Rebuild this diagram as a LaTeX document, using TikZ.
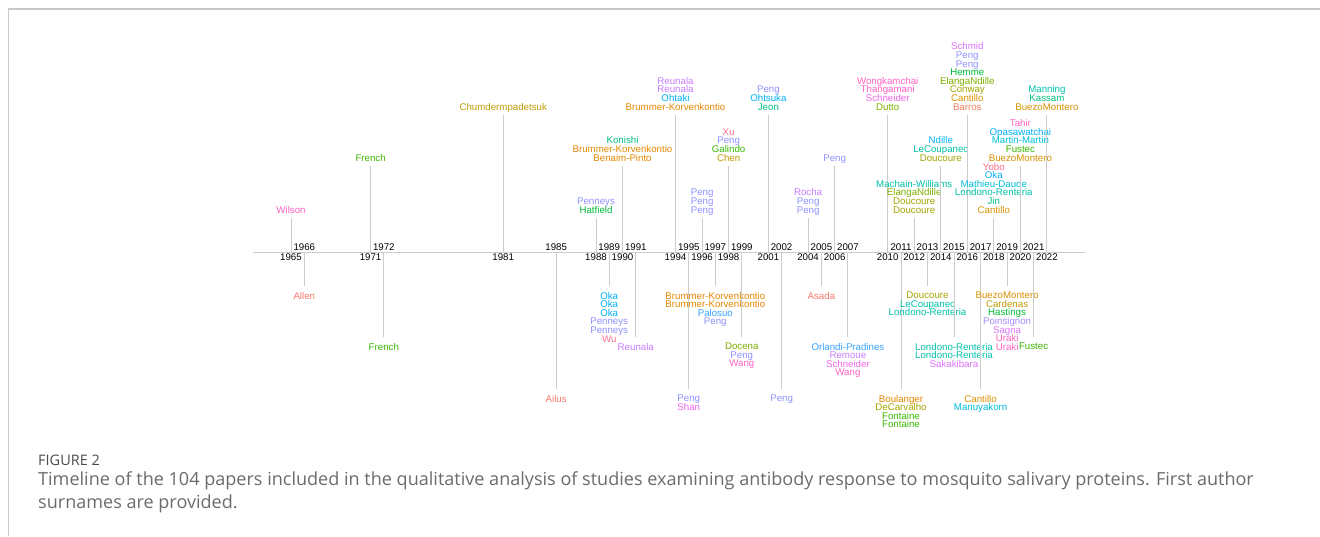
\documentclass[tikz,border=0pt]{standalone}
\usepackage{fontspec}
\setmainfont{Liberation Sans}
\newfontfamily\capfont{Open Sans}
\usetikzlibrary{positioning}

% hue colours, ordered by surname
\definecolor{hSalmon}{HTML}{F8766D}
\definecolor{hCoral}{HTML}{F37B59}
\definecolor{hOrange}{HTML}{E58700}
\definecolor{hAmber}{HTML}{D89000}
\definecolor{hGold}{HTML}{C09B00}
\definecolor{hOlive}{HTML}{A3A500}
\definecolor{hLime}{HTML}{7CAE00}
\definecolor{hGreen}{HTML}{39B600}
\definecolor{hEmerald}{HTML}{00BA38}
\definecolor{hJade}{HTML}{00BF7D}
\definecolor{hTeal}{HTML}{00C1A7}
\definecolor{hCyan}{HTML}{00BCD8}
\definecolor{hSky}{HTML}{00B0F6}
\definecolor{hAzure}{HTML}{35A2FF}
\definecolor{hPeri}{HTML}{8F91FF}
\definecolor{hLilac}{HTML}{A58AFF}
\definecolor{hPurple}{HTML}{C77CFF}
\definecolor{hViolet}{HTML}{DC71FA}
\definecolor{hMagenta}{HTML}{F166E8}
\definecolor{hPink}{HTML}{FF61C3}
\definecolor{hRose}{HTML}{FF6C91}
\definecolor{linegray}{HTML}{CCCCCC}
\definecolor{framegray}{HTML}{C8C8C8}
\definecolor{capgray}{HTML}{6B6B6B}
\definecolor{figgray}{HTML}{4A4A4A}

\newcommand\au[2]{\textcolor{#1}{#2}\strut}
\lineskiplimit=-100pt

\begin{document}
\begin{tikzpicture}[x=1pt, y=-1pt,
  tl/.style={font=\fontsize{9.7}{8.6}\selectfont},
  yrup/.style={tl, inner sep=0pt, outer sep=0pt, above=1.5pt of #1},
  yrdn/.style={tl, inner sep=0pt, outer sep=0pt, below=2pt of #1},
  namesup/.style={tl, align=center, anchor=south, inner sep=0pt, outer sep=2.4pt},
  namesdn/.style={tl, align=center, anchor=north, inner sep=0pt, outer sep=6pt},
  stem/.style={draw=linegray, line width=0.9pt}]

  \useasboundingbox (0,0) rectangle (1320,536);

  % frame
  \draw[framegray, line width=1.2pt] (1320,9) -- (8.5,9) -- (8.5,536);

  % axis
  \coordinate (axL) at (253,252);
  \coordinate (axR) at (1085,252);
  \draw[linegray, line width=1pt] (axL) -- (axR);

  % 1965
  \coordinate (a1965) at (291.0,252);
  \node[yrdn=a1965] (y1965) {1965};
  \node[namesup] (n1965) at (291.0,218) {\au{hPink}{Wilson}};
  \draw[stem] (a1965) -- (n1965);

  % 1966
  \coordinate (a1966) at (304.3,252);
  \node[yrup=a1966] (y1966) {1966};
  \node[namesdn] (n1966) at (304.3,286) {\au{hSalmon}{Allen}};
  \draw[stem] (a1966) -- (n1966);

  % 1971
  \coordinate (a1971) at (370.6,252);
  \node[yrdn=a1971] (y1971) {1971};
  \node[namesup] (n1971) at (370.6,166) {\au{hGreen}{French}};
  \draw[stem] (a1971) -- (n1971);

  % 1972
  \coordinate (a1972) at (383.8,252);
  \node[yrup=a1972] (y1972) {1972};
  \node[namesdn] (n1972) at (383.8,337) {\au{hGreen}{French}};
  \draw[stem] (a1972) -- (n1972);

  % 1981
  \coordinate (a1981) at (503.2,252);
  \node[yrdn=a1981] (y1981) {1981};
  \node[namesup] (n1981) at (503.2,115) {\au{hGold}{Chumdermpadetsuk}};
  \draw[stem] (a1981) -- (n1981);

  % 1985
  \coordinate (a1985) at (556.2,252);
  \node[yrup=a1985] (y1985) {1985};
  \node[namesdn] (n1985) at (556.2,389) {\au{hSalmon}{Ailus}};
  \draw[stem] (a1985) -- (n1985);

  % 1988
  \coordinate (a1988) at (596.0,252);
  \node[yrdn=a1988] (y1988) {1988};
  \node[namesup] (n1988) at (596.0,218) {\au{hPeri}{Penneys}\\\au{hEmerald}{Hatfield}};
  \draw[stem] (a1988) -- (n1988);

  % 1989
  \coordinate (a1989) at (609.2,252);
  \node[yrup=a1989] (y1989) {1989};
  \node[namesdn] (n1989) at (609.2,286) {\au{hSky}{Oka}\\\au{hSky}{Oka}\\\au{hSky}{Oka}\\
    \au{hPeri}{Penneys}\\\au{hPeri}{Penneys}\\\au{hRose}{Wu}};
  \draw[stem] (a1989) -- (n1989);

  % 1990
  \coordinate (a1990) at (622.5,252);
  \node[yrdn=a1990] (y1990) {1990};
  \node[namesup] (n1990) at (622.5,166) {\au{hJade}{Konishi}\\
    \au{hOrange}{Brummer-Korvenkontio}\\\au{hOrange}{Benaim-Pinto}};
  \draw[stem] (a1990) -- (n1990);

  % 1991
  \coordinate (a1991) at (635.8,252);
  \node[yrup=a1991] (y1991) {1991};
  \node[namesdn] (n1991) at (635.8,337) {\au{hPurple}{Reunala}};
  \draw[stem] (a1991) -- (n1991);

  % 1994
  \coordinate (a1994) at (675.5,252);
  \node[yrdn=a1994] (y1994) {1994};
  \node[namesup] (n1994) at (675.5,115) {\au{hPurple}{Reunala}\\\au{hPurple}{Reunala}\\
    \au{hSky}{Ohtaki}\\\au{hOrange}{Brummer-Korvenkontio}};
  \draw[stem] (a1994) -- (n1994);

  % 1995
  \coordinate (a1995) at (688.8,252);
  \node[yrup=a1995] (y1995) {1995};
  \node[namesdn] (n1995) at (688.8,389) {\au{hPeri}{Peng}\\\au{hMagenta}{Shan}};
  \draw[stem] (a1995) -- (n1995);

  % 1996
  \coordinate (a1996) at (702.1,252);
  \node[yrdn=a1996] (y1996) {1996};
  \node[namesup] (n1996) at (702.1,218) {\au{hPeri}{Peng}\\\au{hPeri}{Peng}\\\au{hPeri}{Peng}};
  \draw[stem] (a1996) -- (n1996);

  % 1997
  \coordinate (a1997) at (715.3,252);
  \node[yrup=a1997] (y1997) {1997};
  \node[namesdn] (n1997) at (715.3,286) {\au{hOrange}{Brummer-Korvenkontio}\\
    \au{hOrange}{Brummer-Korvenkontio}\\\au{hAzure}{Palosuo}\\\au{hPeri}{Peng}};
  \draw[stem] (a1997) -- (n1997);

  % 1998
  \coordinate (a1998) at (728.6,252);
  \node[yrdn=a1998] (y1998) {1998};
  \node[namesup] (n1998) at (728.6,166) {\au{hRose}{Xu}\\\au{hPeri}{Peng}\\
    \au{hGreen}{Galindo}\\\au{hGold}{Chen}};
  \draw[stem] (a1998) -- (n1998);

  % 1999
  \coordinate (a1999) at (741.8,252);
  \node[yrup=a1999] (y1999) {1999};
  \node[namesdn] (n1999) at (741.8,337) {\au{hLime}{Docena}\\\au{hPeri}{Peng}\\\au{hPink}{Wang}};
  \draw[stem] (a1999) -- (n1999);

  % 2001
  \coordinate (a2001) at (768.4,252);
  \node[yrdn=a2001] (y2001) {2001};
  \node[namesup] (n2001) at (768.4,115) {\au{hPeri}{Peng}\\\au{hSky}{Ohtsuka}\\\au{hJade}{Jeon}};
  \draw[stem] (a2001) -- (n2001);

  % 2002
  \coordinate (a2002) at (781.6,252);
  \node[yrup=a2002] (y2002) {2002};
  \node[namesdn] (n2002) at (781.6,389) {\au{hPeri}{Peng}};
  \draw[stem] (a2002) -- (n2002);

  % 2004
  \coordinate (a2004) at (808.1,252);
  \node[yrdn=a2004] (y2004) {2004};
  \node[namesup] (n2004) at (808.1,218) {\au{hPurple}{Rocha}\\\au{hPeri}{Peng}\\\au{hPeri}{Peng}};
  \draw[stem] (a2004) -- (n2004);

  % 2005
  \coordinate (a2005) at (821.4,252);
  \node[yrup=a2005] (y2005) {2005};
  \node[namesdn] (n2005) at (821.4,286) {\au{hSalmon}{Asada}};
  \draw[stem] (a2005) -- (n2005);

  % 2006
  \coordinate (a2006) at (834.7,252);
  \node[yrdn=a2006] (y2006) {2006};
  \node[namesup] (n2006) at (834.7,166) {\au{hPeri}{Peng}};
  \draw[stem] (a2006) -- (n2006);

  % 2007
  \coordinate (a2007) at (847.9,252);
  \node[yrup=a2007] (y2007) {2007};
  \node[namesdn] (n2007) at (847.9,337) {\au{hAzure}{Orlandi-Pradines}\\\au{hPurple}{Remoue}\\
    \au{hMagenta}{Schneider}\\\au{hPink}{Wang}};
  \draw[stem] (a2007) -- (n2007);

  % 2010
  \coordinate (a2010) at (887.7,252);
  \node[yrdn=a2010] (y2010) {2010};
  \node[namesup] (n2010) at (887.7,115) {\au{hPink}{Wongkamchai}\\\au{hPink}{Thangamani}\\
    \au{hMagenta}{Schneider}\\\au{hLime}{Dutto}};
  \draw[stem] (a2010) -- (n2010);

  % 2011
  \coordinate (a2011) at (901.0,252);
  \node[yrup=a2011] (y2011) {2011};
  \node[namesdn] (n2011) at (901.0,389) {\au{hOrange}{Boulanger}\\\au{hOlive}{DeCarvalho}\\
    \au{hGreen}{Fontaine}\\\au{hGreen}{Fontaine}};
  \draw[stem] (a2011) -- (n2011);

  % 2012
  \coordinate (a2012) at (914.2,252);
  \node[yrdn=a2012] (y2012) {2012};
  \node[namesup] (n2012) at (914.2,218) {\au{hTeal}{Machain-Williams}\\\au{hLime}{ElangaNdille}\\
    \au{hOlive}{Doucoure}\\\au{hOlive}{Doucoure}};
  \draw[stem] (a2012) -- (n2012);

  % 2013
  \coordinate (a2013) at (927.5,252);
  \node[yrup=a2013] (y2013) {2013};
  \node[namesdn] (n2013) at (927.5,286) {\au{hOlive}{Doucoure}\\\au{hTeal}{LeCoupanec}\\
    \au{hTeal}{Londono-Renteria}};
  \draw[stem] (a2013) -- (n2013);

  % 2014
  \coordinate (a2014) at (940.8,252);
  \node[yrdn=a2014] (y2014) {2014};
  \node[namesup] (n2014) at (940.8,166) {\au{hSky}{Ndille}\\\au{hTeal}{LeCoupanec}\\
    \au{hOlive}{Doucoure}};
  \draw[stem] (a2014) -- (n2014);

  % 2015
  \coordinate (a2015) at (954.0,252);
  \node[yrup=a2015] (y2015) {2015};
  \node[namesdn] (n2015) at (954.0,337) {\au{hTeal}{Londono-Renteria}\\
    \au{hTeal}{Londono-Renteria}\\\au{hViolet}{Sakakibara}};
  \draw[stem] (a2015) -- (n2015);

  % 2016
  \coordinate (a2016) at (967.3,252);
  \node[yrdn=a2016] (y2016) {2016};
  \node[namesup] (n2016) at (967.3,115) {\au{hViolet}{Schmid}\\\au{hPeri}{Peng}\\\au{hPeri}{Peng}\\
    \au{hEmerald}{Hemme}\\\au{hLime}{ElangaNdille}\\\au{hOlive}{Conway}\\
    \au{hAmber}{Cantillo}\\\au{hCoral}{Barros}};
  \draw[stem] (a2016) -- (n2016);

  % 2017
  \coordinate (a2017) at (980.6,252);
  \node[yrup=a2017] (y2017) {2017};
  \node[namesdn] (n2017) at (980.6,389) {\au{hAmber}{Cantillo}\\\au{hCyan}{Manuyakorn}};
  \draw[stem] (a2017) -- (n2017);

  % 2018
  \coordinate (a2018) at (993.8,252);
  \node[yrdn=a2018] (y2018) {2018};
  \node[namesup] (n2018) at (993.8,218) {\au{hRose}{Yobo}\\\au{hSky}{Oka}\\
    \au{hCyan}{Mathieu-Daude}\\\au{hTeal}{Londono-Renteria}\\\au{hJade}{Jin}\\
    \au{hAmber}{Cantillo}};
  \draw[stem] (a2018) -- (n2018);

  % 2019
  \coordinate (a2019) at (1007.1,252);
  \node[yrup=a2019] (y2019) {2019};
  \node[namesdn] (n2019) at (1007.1,286) {\au{hAmber}{BuezoMontero}\\\au{hGold}{Cardenas}\\
    \au{hEmerald}{Hastings}\\\au{hLilac}{Poinsignon}\\\au{hViolet}{Sagna}\\
    \au{hPink}{Uraki}\\\au{hPink}{Uraki}};
  \draw[stem] (a2019) -- (n2019);

  % 2020
  \coordinate (a2020) at (1020.4,252);
  \node[yrdn=a2020] (y2020) {2020};
  \node[namesup] (n2020) at (1020.4,166) {\au{hPink}{Tahir}\\\au{hSky}{Opasawatchai}\\
    \au{hCyan}{Martin-Martin}\\\au{hGreen}{Fustec}\\\au{hAmber}{BuezoMontero}};
  \draw[stem] (a2020) -- (n2020);

  % 2021
  \coordinate (a2021) at (1033.6,252);
  \node[yrup=a2021] (y2021) {2021};
  \node[namesdn] (n2021) at (1033.6,337) {\au{hGreen}{Fustec}};
  \draw[stem] (a2021) -- (n2021);

  % 2022
  \coordinate (a2022) at (1046.9,252);
  \node[yrdn=a2022] (y2022) {2022};
  \node[namesup] (n2022) at (1046.9,115) {\au{hTeal}{Manning}\\\au{hJade}{Kassam}\\
    \au{hAmber}{BuezoMontero}};
  \draw[stem] (a2022) -- (n2022);

  % caption
  \node[anchor=base west, inner sep=0pt, text=figgray,
        font=\capfont\fontsize{14.5}{16}\selectfont] (fig) at (38,465) {FIGURE 2};
  \node[anchor=base west, inner sep=0pt, text=capgray, align=left,
        font=\capfont\fontsize{18.05}{23.5}\selectfont] (cap) at (38,508.5)
    {Timeline of the 104 papers included in the qualitative analysis of studies examining
     antibody response to mosquito salivary proteins. First author\\surnames are provided.};

\end{tikzpicture}
\end{document}
